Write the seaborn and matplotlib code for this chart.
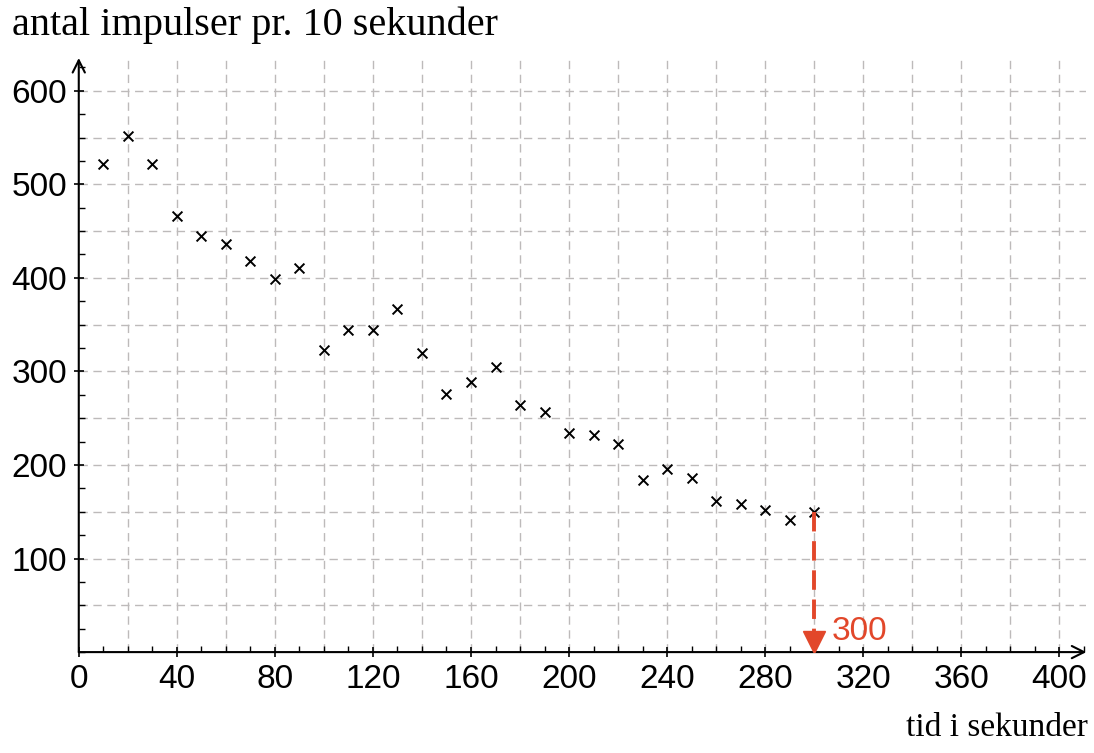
import seaborn as sns
import pandas as pd
import matplotlib.pyplot as plt
from matplotlib.ticker import MultipleLocator

# tid (s) og antal impulser pr. 10 s
tid = [10, 20, 30, 40, 50, 60, 70, 80, 90, 100,
       110, 120, 130, 140, 150, 160, 170, 180, 190, 200,
       210, 220, 230, 240, 250, 260, 270, 280, 290, 300]
impulser = [522, 552, 522, 466, 445, 436, 418, 399, 411, 323,
            344, 344, 367, 320, 276, 289, 305, 264, 257, 234,
            232, 222, 184, 196, 186, 161, 158, 152, 141, 150]
x_ticks = [0, 40, 80, 120, 160, 200, 240, 280, 320, 360, 400]
y_ticks = [100, 200, 300, 400, 500, 600]
markering = 300

df = pd.DataFrame({"tid": tid, "impulser": impulser})

sns.set_style("white")
red = "#e2472a"
serif = ["Liberation Serif", "DejaVu Serif"]
sans = ["Liberation Sans", "DejaVu Sans"]

fig = plt.figure(figsize=(10.94, 7.53), dpi=100)
ax = fig.add_axes([0.072, 0.134, 0.921, 0.789])

ax.set_xlim(0, 411)
ax.set_ylim(0, 635)

# gitter
for gx in range(20, 420, 20):
    ax.axvline(gx, color="#bdbaba", lw=1, ls=(0, (6, 4)), zorder=0)
for gy in range(50, 650, 50):
    ax.axhline(gy, color="#bdbaba", lw=1, ls=(0, (6, 4)), zorder=0)

sns.scatterplot(data=df, x="tid", y="impulser", marker="x", color="black",
                s=50, linewidth=1.4, ax=ax, zorder=3)

# rød markering
ax.plot([markering, markering], [150, 18], color=red, lw=2.8, ls=(0, (5, 2.5)), zorder=4)
ax.plot([markering], [11], marker="v", color=red, markersize=16, zorder=4)
ax.text(markering + 7, 22, str(markering), color=red, fontsize=24,
        family=sans, va="center", ha="left")

# akser med pile
for s in ax.spines.values():
    s.set_visible(False)
ax.annotate("", xy=(1.0, 0), xytext=(0, 0), xycoords="axes fraction",
            arrowprops=dict(arrowstyle="->", lw=1.5, color="black",
                            mutation_scale=22, shrinkA=0, shrinkB=0))
ax.annotate("", xy=(0, 1.0), xytext=(0, 0), xycoords="axes fraction",
            arrowprops=dict(arrowstyle="->", lw=1.5, color="black",
                            mutation_scale=22, shrinkA=0, shrinkB=0))

ax.set_xticks(x_ticks)
ax.set_yticks(y_ticks)
ax.xaxis.set_minor_locator(MultipleLocator(10))
ax.yaxis.set_minor_locator(MultipleLocator(25))
ax.tick_params(which="major", direction="inout", length=7, width=1.2,
               labelsize=24, pad=5, bottom=True, left=True,
               colors="black", labelcolor="black")
ax.tick_params(which="minor", direction="in", length=4, width=1, bottom=True, left=True,
               colors="black")
for lab in ax.get_xticklabels() + ax.get_yticklabels():
    lab.set_family(sans)
ax.set_xlabel("")
ax.set_ylabel("")

fig.text(0.011, 0.966, "antal impulser pr. 10 sekunder", fontsize=29,
         family=serif, va="center", ha="left", color="black")
fig.text(0.994, 0.033, "tid i sekunder", fontsize=24,
         family=serif, va="center", ha="right", color="black")

fig.savefig("out.png", dpi=100, facecolor="white")
